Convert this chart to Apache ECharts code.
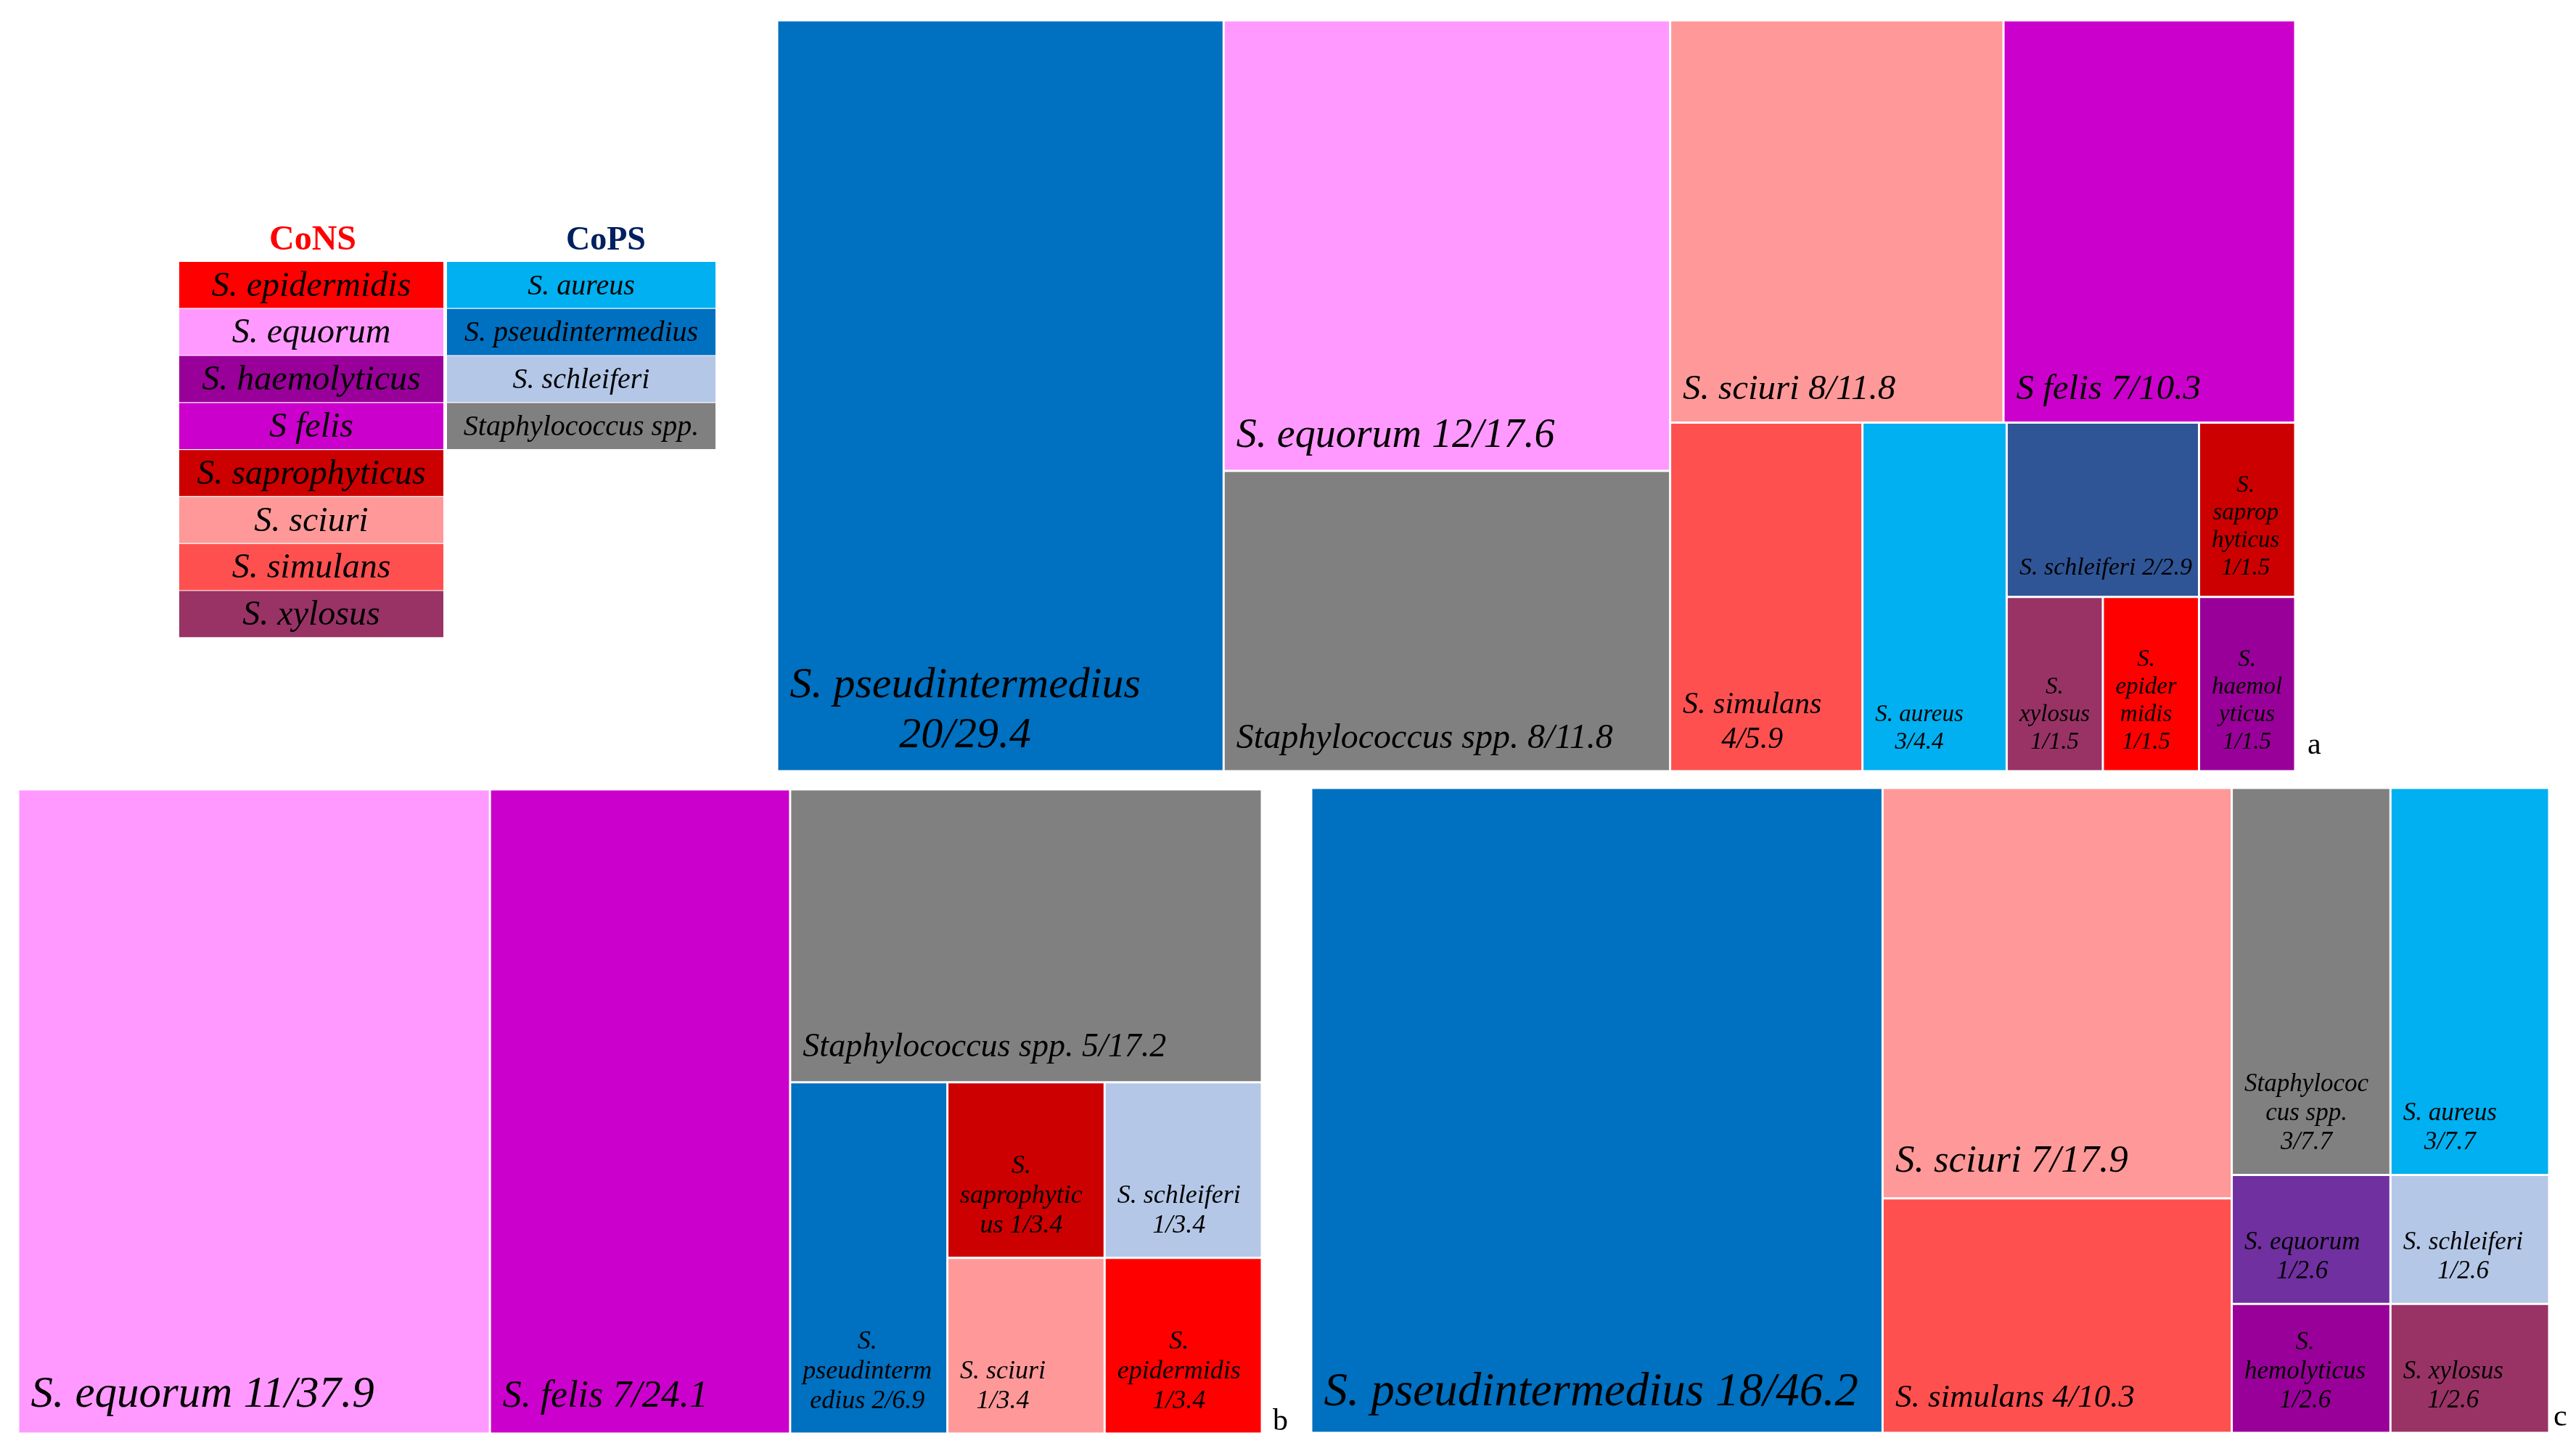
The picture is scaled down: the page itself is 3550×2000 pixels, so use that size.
<!DOCTYPE html>
<html>
<head>
<meta charset="utf-8">
<script src="https://cdn.jsdelivr.net/npm/echarts@6/dist/echarts.min.js"></script>
<style>
html, body { margin: 0; padding: 0; background: #fff; }
#chart { width: 3550px; height: 2000px; }
</style>
</head>
<body>
<div id="chart"></div>
<script>
// panel a, n = 68
var namesA = ['S. pseudintermedius', 'S. equorum', 'Staphylococcus spp.', 'S. sciuri', 'S felis', 'S. simulans',
              'S. aureus', 'S. schleiferi', 'S. saprophyticus', 'S. xylosus', 'S. epidermidis', 'S. haemolyticus'];
var countsA = [20, 12, 8, 8, 7, 4, 3, 2, 1, 1, 1, 1];
var pctA = [29.4, 17.6, 11.8, 11.8, 10.3, 5.9, 4.4, 2.9, 1.5, 1.5, 1.5, 1.5];

// panel b, n = 29
var namesB = ['S. equorum', 'S. felis', 'Staphylococcus spp.', 'S. pseudintermedius', 'S. saprophyticus',
              'S. schleiferi', 'S. sciuri', 'S. epidermidis'];
var countsB = [11, 7, 5, 2, 1, 1, 1, 1];
var pctB = [37.9, 24.1, 17.2, 6.9, 3.4, 3.4, 3.4, 3.4];

// panel c, n = 39
var namesC = ['S. pseudintermedius', 'S. sciuri', 'S. simulans', 'Staphylococcus spp.', 'S. aureus',
              'S. equorum', 'S. schleiferi', 'S. hemolyticus', 'S. xylosus'];
var countsC = [18, 7, 4, 3, 3, 1, 1, 1, 1];
var pctC = [46.2, 17.9, 10.3, 7.7, 7.7, 2.6, 2.6, 2.6, 2.6];

// legend
var consNames = ['S. epidermidis', 'S. equorum', 'S. haemolyticus', 'S felis', 'S. saprophyticus', 'S. sciuri', 'S. simulans', 'S. xylosus'];
var consColors = ['#ff0000', '#ff99ff', '#990099', '#cc00cc', '#cc0000', '#ff9999', '#ff5050', '#993366'];
var copsNames = ['S. aureus', 'S. pseudintermedius', 'S. schleiferi', 'Staphylococcus spp.'];
var copsColors = ['#00b0f0', '#0070c0', '#b4c7e7', '#808080'];

// grouping of cells (indices into the arrays above) so the squarified layout follows the original
var groupsA = [0, [1, 2], [[3, 4], [5, 6, [[7, 8], [9, 10, 11]]]]];
var groupsB = [0, 1, [2, [3, [[4, 5], [6, 7]]]]];
var groupsC = [[0, [1, 2]], [[3, 4], [[5, 6], [7, 8]]]];

// label styling
var fontA = [60, 56, 48, 49, 49, 42, 33, 34, 33, 33, 33, 33];
var fontB = [61, 52, 46, 36, 36, 36, 36, 36];
var fontC = [65, 53, 45, 35, 35, 35, 35, 35, 35];
var wrapA = {
    'S. pseudintermedius': 'S. pseudintermedius\n#', 'S. simulans': 'S. simulans\n#', 'S. aureus': 'S. aureus\n#',
    'S. saprophyticus': 'S.\nsaprop\nhyticus\n#', 'S. xylosus': 'S.\nxylosus\n#',
    'S. epidermidis': 'S.\nepider\nmidis\n#', 'S. haemolyticus': 'S.\nhaemol\nyticus\n#'
};
var wrapB = {
    'S. pseudintermedius': 'S.\npseudinterm\nedius #', 'S. saprophyticus': 'S.\nsaprophytic\nus #',
    'S. schleiferi': 'S. schleiferi\n#', 'S. sciuri': 'S. sciuri\n#', 'S. epidermidis': 'S.\nepidermidis\n#'
};
var wrapC = {
    'Staphylococcus spp.': 'Staphylococ\ncus spp.\n#', 'S. aureus': 'S. aureus\n#', 'S. equorum': 'S. equorum\n#',
    'S. schleiferi': 'S. schleiferi\n#', 'S. hemolyticus': 'S.\nhemolyticus\n#', 'S. xylosus': 'S. xylosus\n#'
};

var baseColor = {};
consNames.forEach(function (n, i) { baseColor[n] = consColors[i]; });
copsNames.forEach(function (n, i) { baseColor[n] = copsColors[i]; });
baseColor['S. felis'] = baseColor['S felis'];
baseColor['S. hemolyticus'] = baseColor['S. haemolyticus'];
var colorsA = {'S. schleiferi': '#2f5597'};
var colorsB = {};
var colorsC = {'S. equorum': '#7030a0'};

var SERIF = '"Liberation Serif", "Times New Roman", serif';
var PAD_L = 16;
var baseGap = [27, 31, 31];   // distance of last text baseline above cell bottom, per panel
var labelFont = {};
var measureCtx = document.createElement('canvas').getContext('2d');

function buildNode(spec, p) {
    if (Array.isArray(spec)) {
        return {name: '', children: spec.map(function (s) { return buildNode(s, p); })};
    }
    var name = p.names[spec];
    var v = p.counts[spec] + '/' + p.pct[spec].toFixed(1);
    var text = (p.wrap[name] || name + ' #').replace('#', v);
    var fs = p.font[spec];
    labelFont[p.idx + '|' + text] = fs;
    return {
        name: name,
        value: p.counts[spec],
        itemStyle: {color: p.colors[name] || baseColor[name], borderWidth: 1.5, borderColor: '#fff'},
        label: {formatter: text, fontSize: fs, lineHeight: Math.round(fs * 1.15)}
    };
}

function layoutLabel(prm) {
    var fs = labelFont[prm.seriesIndex + '|' + prm.text];
    if (!fs) return {};
    var lines = prm.text.split('\n');
    var lh = Math.round(fs * 1.15);
    measureCtx.font = 'italic ' + fs + 'px "Liberation Serif"';
    var w = 0;
    lines.forEach(function (l) { w = Math.max(w, measureCtx.measureText(l).width); });
    var lastMid = prm.rect.y + prm.rect.height - baseGap[prm.seriesIndex] - 0.34 * fs;
    return {
        x: prm.rect.x + PAD_L + w / 2,
        y: lastMid - (lines.length - 1) * lh - lh / 2,
        align: 'center',
        verticalAlign: 'top'
    };
}

function treemap(idx, box, ratio, groups, p) {
    p.idx = idx;
    return {
        type: 'treemap',
        left: box[0], top: box[1], width: box[2], height: box[3],
        squareRatio: ratio,
        sort: false,
        roam: false,
        nodeClick: false,
        silent: true,
        animation: false,
        breadcrumb: {show: false},
        emphasis: {disabled: true},
        itemStyle: {borderWidth: 0, gapWidth: 0, borderColor: '#fff'},
        upperLabel: {show: false},
        label: {
            show: true, color: '#000', fontFamily: SERIF, fontStyle: 'italic',
            padding: 0, distance: 0, overflow: 'none'
        },
        labelLayout: layoutLabel,
        data: groups.map(function (g) { return buildNode(g, p); })
    };
}

var graphics = [];
function legendColumn(names, colors, x, w, fs) {
    names.forEach(function (n, i) {
        var y = 361 + i * 64.8;
        graphics.push({type: 'rect', shape: {x: x, y: y, width: w, height: 63.6}, style: {fill: colors[i]}});
        graphics.push({type: 'text', x: x + w / 2, y: y + 34,
            style: {text: n, font: 'italic ' + fs + 'px ' + SERIF, fill: '#000', align: 'center', verticalAlign: 'middle'}});
    });
}
legendColumn(consNames, consColors, 247, 364, 48);
legendColumn(copsNames, copsColors, 616, 370, 40);
graphics.push({type: 'text', x: 431, y: 332,
    style: {text: 'CoNS', font: 'bold 48px ' + SERIF, fill: '#ff0000', align: 'center', verticalAlign: 'middle'}});
graphics.push({type: 'text', x: 835, y: 332,
    style: {text: 'CoPS', font: 'bold 46px ' + SERIF, fill: '#002060', align: 'center', verticalAlign: 'middle'}});
[['a', 3180, 1028], ['b', 1754, 1960], ['c', 3519, 1954]].forEach(function (t) {
    graphics.push({type: 'text', x: t[1], y: t[2],
        style: {text: t[0], font: '42px ' + SERIF, fill: '#000', align: 'left', verticalAlign: 'middle'}});
});

var chart = echarts.init(document.getElementById('chart'));
chart.setOption({
    backgroundColor: '#fff',
    animation: false,
    graphic: graphics,
    series: [
        treemap(0, [1071, 28, 2092, 1035], 1, groupsA,
            {names: namesA, counts: countsA, pct: pctA, font: fontA, wrap: wrapA, colors: colorsA}),
        treemap(1, [25, 1088, 1714, 888], 1, groupsB,
            {names: namesB, counts: countsB, pct: pctB, font: fontB, wrap: wrapB, colors: colorsB}),
        treemap(2, [1807, 1086, 1706, 889], 0.5 * (1 + Math.sqrt(5)), groupsC,
            {names: namesC, counts: countsC, pct: pctC, font: fontC, wrap: wrapC, colors: colorsC})
    ]
});
</script>
</body>
</html>
